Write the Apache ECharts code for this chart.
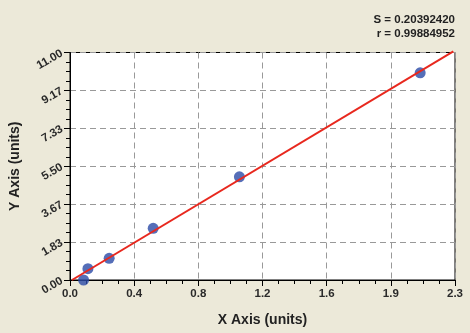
<!DOCTYPE html>
<html>
<head>
<meta charset="utf-8">
<script src="https://cdn.jsdelivr.net/npm/echarts@6/dist/echarts.min.js"></script>
<style>
html,body{margin:0;padding:0;background:#ECE9D9;}
#chart{width:470px;height:333px;}
</style>
</head>
<body>
<div id="chart"></div>
<script>
// Data
var pointsX = [0.081, 0.107, 0.234, 0.497, 1.012, 2.092];
var pointsY = [0.0, 0.55, 1.05, 2.50, 4.99, 10.02];
var fitLineX = [0.012, 2.29];
var fitLineY = [0.0, 11.05];
var xTickLabels = ['0.0', '0.4', '0.8', '1.2', '1.6', '1.9', '2.3'];
var yTickLabels = ['0.00', '1.83', '3.67', '5.50', '7.33', '9.17', '11.00'];
var statLines = ['S = 0.20392420', 'r = 0.99884952'];

var xMax = 2.3, yMax = 11, nDiv = 6;
var xInt = xMax / nDiv, yInt = yMax / nDiv;
var FONT = 'Liberation Sans, Arial, sans-serif';
var TICK = '#000000';

var chart = echarts.init(document.getElementById('chart'));
var pts = pointsX.map(function (x, i) { return [x, pointsY[i]]; });
var fit = fitLineX.map(function (x, i) { return [x, fitLineY[i]]; });

chart.setOption({
  backgroundColor: '#ECE9D9',
  animation: false,
  grid: {
    left: 68, right: 15, top: 52.5, bottom: 53,
    show: true, backgroundColor: '#ffffff', borderColor: '#000', borderWidth: 1
  },
  xAxis: {
    type: 'value', min: 0, max: xMax, interval: xInt, position: 'bottom',
    name: 'X Axis (units)', nameLocation: 'middle', nameGap: 33,
    nameTextStyle: { fontFamily: FONT, fontWeight: 'bold', fontSize: 14, color: '#222' },
    axisLine: { show: true, onZero: false, lineStyle: { color: '#000', width: 1 } },
    axisTick: { show: true, interval: 0, length: 6, lineStyle: { color: TICK, width: 1 } },
    minorTick: { show: true, splitNumber: 4, length: 4, lineStyle: { color: TICK, width: 1 } },
    splitLine: { show: true, lineStyle: { color: '#999', type: [6, 4], width: 1 } },
    axisLabel: {
      interval: 0, margin: 8, fontFamily: FONT, fontWeight: 'bold', fontSize: 11.5, color: '#2a2a2a',
      formatter: function (v) { return xTickLabels[Math.round(v / xInt)]; }
    }
  },
  yAxis: {
    type: 'value', min: 0, max: yMax, interval: yInt, position: 'left',
    name: 'Y Axis (units)', nameLocation: 'middle', nameGap: 48,
    nameTextStyle: { fontFamily: FONT, fontWeight: 'bold', fontSize: 14, color: '#222' },
    axisLine: { show: true, onZero: false, lineStyle: { color: '#000', width: 1 } },
    axisTick: { show: true, interval: 0, length: 6, lineStyle: { color: TICK, width: 1 } },
    minorTick: { show: true, splitNumber: 4, length: 4, lineStyle: { color: TICK, width: 1 } },
    splitLine: { show: true, lineStyle: { color: '#999', type: [6, 4], width: 1 } },
    axisLabel: {
      interval: 0, margin: 8, rotate: 30, fontFamily: FONT, fontWeight: 'bold', fontSize: 11.5, color: '#2a2a2a',
      formatter: function (v) { return yTickLabels[Math.round(v / yInt)]; }
    }
  },
  graphic: [
    { type: 'text', right: 15, top: 14, style: { text: statLines[0], fontFamily: FONT, fontWeight: 'bold', fontSize: 11.5, fill: '#222' } },
    { type: 'text', right: 15, top: 28, style: { text: statLines[1], fontFamily: FONT, fontWeight: 'bold', fontSize: 11.5, fill: '#222' } }
  ],
  series: [
    {
      type: 'scatter', data: pts, symbol: 'circle', symbolSize: 11, z: 3,
      itemStyle: { color: '#2B4AA6' }
    },
    {
      type: 'line', data: fit, showSymbol: false, symbol: 'none', clip: false, z: 4,
      lineStyle: { color: '#E8281E', width: 2 }
    }
  ]
});
</script>
</body>
</html>
